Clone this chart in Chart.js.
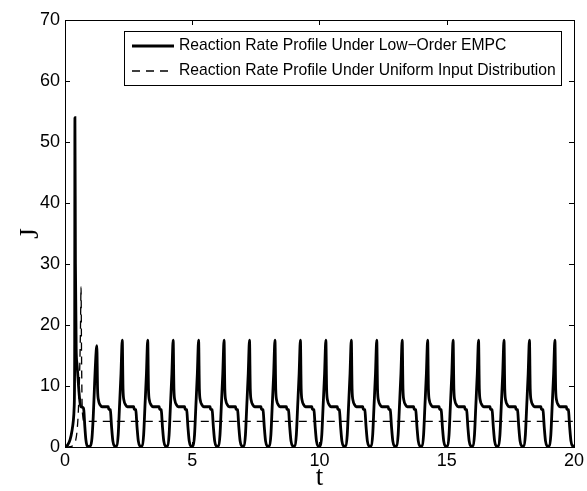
<!DOCTYPE html>
<html><head><meta charset="utf-8">
<script src="https://cdn.jsdelivr.net/npm/chart.js@4.4.1/dist/chart.umd.min.js"></script>
<style>html,body{margin:0;padding:0;background:#fff}#wrap{width:587px;height:491px}</style>
</head><body><div id="wrap"><canvas id="c" width="587" height="491"></canvas></div>
<script>
const seriesNames = ["Reaction Rate Profile Under Low\u2212Order EMPC", "Reaction Rate Profile Under Uniform Input Distribution"];
const xTicks = [0, 5, 10, 15, 20];
const yTicks = [0, 10, 20, 30, 40, 50, 60, 70];
const xTitle = "t";
const yTitle = "J";

// Low-order EMPC (solid) : time points and values
const solidT = [
0,0.1,0.2,0.28,0.33,0.36,0.38,0.39,0.41,0.44,0.47,0.5,0.55,0.6,0.63,0.72,0.74,0.78,0.82,0.86,0.92,1.0,1.06,1.11,1.15,1.19,
1.25,1.28,1.32,1.38,1.45,1.70,1.72,1.78,1.83,1.88,1.95,2.03,2.09,2.14,2.20,
2.25,2.28,2.32,2.38,2.45,2.70,2.72,2.78,2.83,2.88,2.95,3.03,3.09,3.14,3.20,
3.25,3.28,3.32,3.38,3.45,3.70,3.72,3.78,3.83,3.88,3.95,4.03,4.09,4.14,4.20,
4.25,4.28,4.32,4.38,4.45,4.70,4.72,4.78,4.83,4.88,4.95,5.03,5.09,5.14,5.20,
5.25,5.28,5.32,5.38,5.45,5.70,5.72,5.78,5.83,5.88,5.95,6.03,6.09,6.14,6.20,
6.25,6.28,6.32,6.38,6.45,6.70,6.72,6.78,6.83,6.88,6.95,7.03,7.09,7.14,7.20,
7.25,7.28,7.32,7.38,7.45,7.70,7.72,7.78,7.83,7.88,7.95,8.03,8.09,8.14,8.20,
8.25,8.28,8.32,8.38,8.45,8.70,8.72,8.78,8.83,8.88,8.95,9.03,9.09,9.14,9.20,
9.25,9.28,9.32,9.38,9.45,9.70,9.72,9.78,9.83,9.88,9.95,10.03,10.09,10.14,10.20,
10.25,10.28,10.32,10.38,10.45,10.70,10.72,10.78,10.83,10.88,10.95,11.03,11.09,11.14,11.20,
11.25,11.28,11.32,11.38,11.45,11.70,11.72,11.78,11.83,11.88,11.95,12.03,12.09,12.14,12.20,
12.25,12.28,12.32,12.38,12.45,12.70,12.72,12.78,12.83,12.88,12.95,13.03,13.09,13.14,13.20,
13.25,13.28,13.32,13.38,13.45,13.70,13.72,13.78,13.83,13.88,13.95,14.03,14.09,14.14,14.20,
14.25,14.28,14.32,14.38,14.45,14.70,14.72,14.78,14.83,14.88,14.95,15.03,15.09,15.14,15.20,
15.25,15.28,15.32,15.38,15.45,15.70,15.72,15.78,15.83,15.88,15.95,16.03,16.09,16.14,16.20,
16.25,16.28,16.32,16.38,16.45,16.70,16.72,16.78,16.83,16.88,16.95,17.03,17.09,17.14,17.20,
17.25,17.28,17.32,17.38,17.45,17.70,17.72,17.78,17.83,17.88,17.95,18.03,18.09,18.14,18.20,
18.25,18.28,18.32,18.38,18.45,18.70,18.72,18.78,18.83,18.88,18.95,19.03,19.09,19.14,19.20,
19.25,19.28,19.32,19.38,19.45,19.70,19.72,19.78,19.83,19.88,19.95,20.03,20.09
];
const solidJ = [
0,0.3,1.2,2.8,4.4,6.5,15,54,30,16,13.7,12,9,7,6.6,6.4,6.0,3.3,1.2,0.3,0.1,0.2,1.5,5,9,13,
16.6,9.5,7.6,6.9,6.6,6.6,6.2,6.1,3.3,1,0.15,0.2,2,6.5,12,
17.5,9.5,7.6,6.9,6.6,6.6,6.2,6.1,3.3,1,0.15,0.2,2,6.5,12,
17.5,9.5,7.6,6.9,6.6,6.6,6.2,6.1,3.3,1,0.15,0.2,2,6.5,12,
17.5,9.5,7.6,6.9,6.6,6.6,6.2,6.1,3.3,1,0.15,0.2,2,6.5,12,
17.5,9.5,7.6,6.9,6.6,6.6,6.2,6.1,3.3,1,0.15,0.2,2,6.5,12,
17.5,9.5,7.6,6.9,6.6,6.6,6.2,6.1,3.3,1,0.15,0.2,2,6.5,12,
17.5,9.5,7.6,6.9,6.6,6.6,6.2,6.1,3.3,1,0.15,0.2,2,6.5,12,
17.5,9.5,7.6,6.9,6.6,6.6,6.2,6.1,3.3,1,0.15,0.2,2,6.5,12,
17.5,9.5,7.6,6.9,6.6,6.6,6.2,6.1,3.3,1,0.15,0.2,2,6.5,12,
17.5,9.5,7.6,6.9,6.6,6.6,6.2,6.1,3.3,1,0.15,0.2,2,6.5,12,
17.5,9.5,7.6,6.9,6.6,6.6,6.2,6.1,3.3,1,0.15,0.2,2,6.5,12,
17.5,9.5,7.6,6.9,6.6,6.6,6.2,6.1,3.3,1,0.15,0.2,2,6.5,12,
17.5,9.5,7.6,6.9,6.6,6.6,6.2,6.1,3.3,1,0.15,0.2,2,6.5,12,
17.5,9.5,7.6,6.9,6.6,6.6,6.2,6.1,3.3,1,0.15,0.2,2,6.5,12,
17.5,9.5,7.6,6.9,6.6,6.6,6.2,6.1,3.3,1,0.15,0.2,2,6.5,12,
17.5,9.5,7.6,6.9,6.6,6.6,6.2,6.1,3.3,1,0.15,0.2,2,6.5,12,
17.5,9.5,7.6,6.9,6.6,6.6,6.2,6.1,3.3,1,0.15,0.2,2,6.5,12,
17.5,9.5,7.6,6.9,6.6,6.6,6.2,6.1,3.3,1,0.15,0.2,2,6.5,12,
17.5,9.5,7.6,6.9,6.6,6.6,6.2,6.1,3.3,1,0.15,0.2,2
];

// Uniform input distribution (dashed)
const dashT = [0, 0.2, 0.3, 0.38, 0.42, 0.47, 0.52, 0.56, 0.59, 0.61, 0.63, 0.65, 0.67, 0.7, 0.75, 20];
const dashJ = [0, 0.05, 0.2, 0.6, 1.1, 2.5, 5.5, 10, 15, 20, 26.3, 15, 7.5, 5, 4.2, 4.2];

const toXY = (t, v) => t.map((x, i) => ({x: x, y: v[i]}));
const FONT = "'Liberation Sans', Arial, Helvetica, sans-serif";
const SERIF = "'Liberation Serif', 'Times New Roman', serif";

const boxPlugin = {
  id: 'box',
  afterDatasetsDraw(chart) {
    const ctx = chart.ctx, a = chart.chartArea, xs = chart.scales.x, ys = chart.scales.y;
    ctx.save();
    ctx.strokeStyle = '#000'; ctx.lineWidth = 1;
    ctx.strokeRect(Math.round(a.left) + 0.5, Math.round(a.top) + 0.5, Math.round(a.right - a.left), Math.round(a.bottom - a.top));
    const L = 5;
    ctx.beginPath();
    xTicks.forEach(v => {
      const p = Math.round(xs.getPixelForValue(v)) + 0.5;
      ctx.moveTo(p, a.bottom); ctx.lineTo(p, a.bottom - L);
      ctx.moveTo(p, a.top); ctx.lineTo(p, a.top + L);
    });
    yTicks.forEach(v => {
      const p = Math.round(ys.getPixelForValue(v)) + 0.5;
      ctx.moveTo(a.left, p); ctx.lineTo(a.left + L, p);
      ctx.moveTo(a.right, p); ctx.lineTo(a.right - L, p);
    });
    ctx.stroke();
    // legend
    const bx = 124.5, by = 31.5, bw = 437, bh = 54;
    ctx.fillStyle = '#fff';
    ctx.fillRect(bx, by, bw, bh);
    ctx.strokeRect(bx, by, bw, bh);
    const rows = [46, 71];
    ctx.lineWidth = 3; ctx.setLineDash([]);
    ctx.beginPath(); ctx.moveTo(132, rows[0]); ctx.lineTo(174, rows[0]); ctx.stroke();
    ctx.lineWidth = 1.3; ctx.setLineDash([8, 6]);
    ctx.beginPath(); ctx.moveTo(132, rows[1]); ctx.lineTo(174, rows[1]); ctx.stroke();
    ctx.setLineDash([]);
    ctx.fillStyle = '#000';
    ctx.font = '15.7px ' + FONT;
    ctx.textBaseline = 'middle'; ctx.textAlign = 'left';
    ctx.fillText(seriesNames[0], 179, rows[0]);
    ctx.fillText(seriesNames[1], 179, rows[1]);
    ctx.restore();
  }
};

new Chart(document.getElementById('c'), {
  type: 'line',
  data: {
    datasets: [
      {label: seriesNames[0], data: toXY(solidT, solidJ), borderColor: '#000', borderWidth: 2.8,
       pointRadius: 0, cubicInterpolationMode: 'monotone', fill: false},
      {label: seriesNames[1], data: toXY(dashT, dashJ), borderColor: '#000', borderWidth: 1.3,
       borderDash: [8, 6], pointRadius: 0, cubicInterpolationMode: 'monotone', fill: false}
    ]
  },
  options: {
    responsive: false, animation: false, devicePixelRatio: 1,
    layout: {padding: {top: 20, right: 11.5, left: 0, bottom: 0}},
    plugins: {legend: {display: false}, tooltip: {enabled: false}},
    scales: {
      x: {type: 'linear', min: 0, max: 20,
          afterFit(s) { s.height = 44; },
          afterBuildTicks(s) { s.ticks = xTicks.map(v => ({value: v})); },
          grid: {display: false, drawTicks: false},
          border: {display: false},
          ticks: {color: '#000', font: {family: FONT, size: 18}, padding: 3, maxRotation: 0},
          title: {display: true, text: xTitle, color: '#000', font: {family: SERIF, size: 27, lineHeight: 1}, padding: {top: 0, bottom: 0}}
      },
      y: {type: 'linear', min: 0, max: 70,
          afterFit(s) { s.width = 65; },
          afterBuildTicks(s) { s.ticks = yTicks.map(v => ({value: v})); },
          grid: {display: false, drawTicks: false},
          border: {display: false},
          ticks: {color: '#000', font: {family: FONT, size: 18}, padding: 5},
          title: {display: true, text: yTitle, color: '#000', font: {family: SERIF, size: 27, lineHeight: 1}, padding: {top: 17, bottom: 0}}
      }
    }
  },
  plugins: [boxPlugin]
});
</script></body></html>
